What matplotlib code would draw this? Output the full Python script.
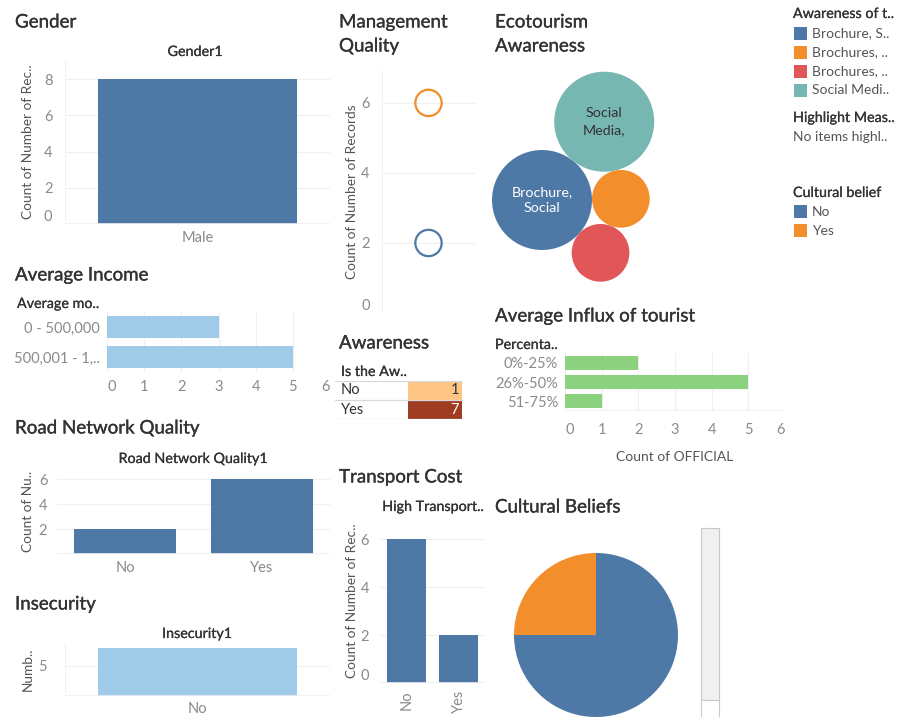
import numpy as np
import matplotlib
matplotlib.use("Agg")
import matplotlib.pyplot as plt
import matplotlib.patheffects as pe
from matplotlib.patches import Circle, Rectangle
from matplotlib.colors import LinearSegmentedColormap, Normalize

# ---------------- data ----------------
gender_cats = ["Male"]
gender_vals = [8]

income_cats = ["0 - 500,000", "500,001 - 1,.."]
income_vals = [3, 5]

road_cats = ["No", "Yes"]
road_vals = [2, 6]

insecurity_cats = ["No"]
insecurity_vals = [8]

mgmt_cats = ["No", "Yes"]
mgmt_vals = [2, 6]

aware_cats = ["No", "Yes"]
aware_vals = [1, 7]

transport_cats = ["No", "Yes"]
transport_vals = [6, 2]

eco_cats = ["Brochure, S..", "Brochures, ..", "Brochures, ..", "Social Medi.."]
eco_vals = [3, 1, 1, 3]
eco_labels = ["Brochure,\nSocial", "", "", "Social\nMedia,"]

influx_cats = ["0%-25%", "26%-50%", "51-75%"]
influx_vals = [2, 5, 1]

culture_cats = ["No", "Yes"]
culture_vals = [6, 2]

# ---------------- style ----------------
BLUE = "#4E79A7"
ORANGE = "#F28E2B"
RED = "#E15759"
TEAL = "#76B7B2"
LBLUE = "#A0CBE8"
GREEN = "#8CD17D"
DARK = "#333333"
GRAY = "#8A8A8A"
AXT = "#555555"
GRID = "#EFEFEF"
TICK_FS = 10.5

plt.rcParams['font.family'] = ['Lato', 'DejaVu Sans']

W, H = 907, 717
fig = plt.figure(figsize=(W / 100, H / 100), dpi=100)
fig.patch.set_facecolor("white")


def add_ax(x0, y0, x1, y1):
    return fig.add_axes([x0 / W, 1 - y1 / H, (x1 - x0) / W, (y1 - y0) / H])


def ftext(x, y, s, **kw):
    kw.setdefault("va", "center")
    kw.setdefault("ha", "left")
    kw.setdefault("color", DARK)
    return fig.text(x / W, 1 - y / H, s, **kw)


def frect(x0, y0, x1, y1, **kw):
    r = Rectangle((x0 / W, 1 - y1 / H), (x1 - x0) / W, (y1 - y0) / H,
                  transform=fig.transFigure, **kw)
    fig.add_artist(r)


def style(ax, grid_axis="y"):
    for s in ax.spines.values():
        s.set_visible(False)
    ax.tick_params(length=0, colors=GRAY, labelsize=TICK_FS)
    ax.grid(axis=grid_axis, color=GRID, lw=0.8)
    ax.set_axisbelow(True)


def title(x, y, s):
    ftext(x, y, s, fontsize=13.5, color=DARK,
          path_effects=[pe.withStroke(linewidth=0.22, foreground=DARK)])


def subtitle(x, y, s, ha="left"):
    ftext(x, y, s, fontsize=10.3, color=DARK, ha=ha,
          path_effects=[pe.withStroke(linewidth=0.15, foreground=DARK)])


def ylab(ax, s, px_x, axx0, axx1):
    ax.set_ylabel(s, fontsize=9.8, color=AXT, va="center")
    ax.yaxis.set_label_coords((px_x - axx0) / (axx1 - axx0), 0.5)


def nudge_zero_y(ax):
    fig.canvas.draw()
    for lab in ax.get_yticklabels():
        if lab.get_text() == "0":
            lab.set_va("bottom")


def nudge_ends_x(ax):
    fig.canvas.draw()
    labs = ax.get_xticklabels()
    labs[0].set_ha("left")
    labs[-1].set_ha("right")


# ---------------- Gender ----------------
title(15, 22, "Gender")
subtitle(195, 52, "Gender1", ha="center")
ax = add_ax(65, 60, 330, 224)
style(ax)
ax.bar(range(len(gender_cats)), gender_vals, width=0.75, color=BLUE)
ax.set_xlim(-0.5, 0.5)
ax.set_ylim(0, 9.05)
ax.set_yticks([0, 2, 4, 6, 8])
ax.set_xticks(range(len(gender_cats)), gender_cats)
ax.tick_params(axis="y", pad=9)
ax.tick_params(axis="x", pad=5)
ax.axvline(-0.5, color=GRID, lw=1.2)
ax.axhline(0, color=GRID, lw=1.2)
ylab(ax, "Count of Number of Rec..", 28, 65, 330)
nudge_zero_y(ax)

# ---------------- Average Income ----------------
title(15, 275, "Average Income")
subtitle(17, 304, "Average mo..")
ax = add_ax(107, 312, 330, 372)
style(ax, "x")
ax.barh(range(len(income_cats)), income_vals, height=0.73, color=LBLUE)
ax.set_ylim(len(income_cats) - 0.5, -0.5)
ax.set_xlim(0, 6.0)
ax.set_xticks(range(0, 7))
ax.set_yticks(range(len(income_cats)), income_cats)
ax.tick_params(axis="x", pad=6)
ax.tick_params(axis="y", pad=5)
nudge_ends_x(ax)

# ---------------- Road Network Quality ----------------
title(15, 428, "Road Network Quality")
subtitle(193, 459, "Road Network Quality1", ha="center")
ax = add_ax(57, 468, 330, 554)
style(ax)
ax.bar(range(len(road_cats)), road_vals, width=0.75, color=BLUE)
ax.set_xlim(-0.5, 1.5)
ax.set_ylim(0, 6.9)
ax.set_yticks([2, 4, 6])
ax.set_xticks(range(len(road_cats)), road_cats)
ax.tick_params(axis="y", pad=7)
ax.tick_params(axis="x", pad=5)
ax.axhline(0, color=GRID, lw=1.2)
ylab(ax, "Count of Nu..", 28, 57, 330)

# ---------------- Insecurity ----------------
title(15, 604, "Insecurity")
subtitle(197, 634, "Insecurity1", ha="center")
ax = add_ax(65, 643, 330, 696)
style(ax)
ax.bar(range(len(insecurity_cats)), insecurity_vals, width=0.75, color=LBLUE)
ax.set_xlim(-0.5, 0.5)
ax.set_ylim(0, 8.8)
ax.set_yticks([5])
ax.set_xticks(range(len(insecurity_cats)), insecurity_cats)
ax.tick_params(axis="y", pad=13)
ax.tick_params(axis="x", pad=4)
ax.axvline(-0.5, color=GRID, lw=1.2)
ax.axhline(0, color=GRID, lw=1.2)
ylab(ax, "Numb..", 28, 65, 330)

# ---------------- Management Quality ----------------
title(339, 22, "Management")
title(339, 46, "Quality")
ax = add_ax(382, 70, 475, 313)
style(ax)
ax.scatter([0] * len(mgmt_vals), mgmt_vals, s=360, facecolors="none",
           edgecolors=[BLUE, ORANGE], linewidths=1.6, zorder=3)
ax.set_xlim(-1, 1)
ax.set_ylim(0, 6.94)
ax.set_yticks([0, 2, 4, 6])
ax.set_xticks([])
ax.tick_params(axis="y", pad=9)
ax.axvline(-1, color=GRID, lw=1.2)
ylab(ax, "Count of Number of Records", 352, 382, 475)
nudge_zero_y(ax)

# ---------------- Awareness table ----------------
title(339, 343, "Awareness")
subtitle(341, 372, "Is the Aw..")
ax = add_ax(335, 381, 463, 419)
ax.set_axis_off()
ax.set_xlim(0, 128)
ax.set_ylim(len(aware_cats), 0)
cmap = LinearSegmentedColormap.from_list("tab_orange", ["#FFC585", "#9E3D22"])
norm = Normalize(min(aware_vals), max(aware_vals))
for i, (c, v) in enumerate(zip(aware_cats, aware_vals)):
    ax.add_patch(Rectangle((73, i), 54, 1, color=cmap(norm(v)), lw=0))
    ax.text(6, i + 0.5, c, va="center", ha="left", fontsize=10.5, color=DARK)
    ax.text(124, i + 0.5, str(v), va="center", ha="right", fontsize=10.5,
            color="white" if norm(v) > 0.5 else DARK)
for yy in range(len(aware_cats) + 1):
    ax.axhline(yy, color="#D8D8D8", lw=0.9)

# ---------------- Transport Cost ----------------
title(339, 477, "Transport Cost")
subtitle(433, 507, "High Transport..", ha="center")
ax = add_ax(380, 518, 485, 683)
style(ax)
ax.bar(range(len(transport_cats)), transport_vals, width=0.74, color=BLUE)
ax.set_xlim(-0.5, 1.5)
ax.set_ylim(0, 6.88)
ax.set_yticks([0, 2, 4, 6])
ax.set_xticks(range(len(transport_cats)), transport_cats, rotation=90)
ax.tick_params(axis="y", pad=8)
ax.tick_params(axis="x", pad=5)
ax.axhline(0, color=GRID, lw=1.2)
ylab(ax, "Count of Number of Rec..", 352, 380, 485)
nudge_zero_y(ax)

# ---------------- Ecotourism Awareness (packed bubbles) ----------------
title(495, 22, "Ecotourism")
title(495, 46, "Awareness")
eco_colors = [BLUE, ORANGE, RED, TEAL]
order = list(np.argsort(-np.array(eco_vals), kind="stable"))
k = 50 / np.sqrt(3)
radii = [k * np.sqrt(eco_vals[i]) for i in order]
theta0 = np.arctan2(78, 62)
centers = [np.array([0.0, 0.0]),
           np.array([np.cos(theta0), np.sin(theta0)]) * (radii[0] + radii[1])]
for i in range(2, len(radii)):
    c0, ca = centers[0], centers[i - 1]
    d0, da = radii[0] + radii[i], radii[i - 1] + radii[i]
    D = np.linalg.norm(ca - c0)
    u = (ca - c0) / D
    a = (d0 ** 2 - da ** 2 + D ** 2) / (2 * D)
    h = np.sqrt(max(d0 ** 2 - a ** 2, 0))
    centers.append(c0 + a * u + h * np.array([u[1], -u[0]]))
ax = add_ax(490, 60, 680, 300)
ax.set_axis_off()
ax.set_xlim(-52, 138)
ax.set_ylim(-100, 140)
ax.set_aspect("equal")
for c, r, idx in zip(centers, radii, order):
    col = eco_colors[idx]
    ax.add_patch(Circle(c, r, color=col, lw=0))
    if eco_labels[idx]:
        ax.text(c[0], c[1], eco_labels[idx], ha="center", va="center",
                fontsize=10.3, color="white" if col == BLUE else DARK,
                linespacing=1.45)

# ---------------- Legends ----------------
subtitle(793, 14, "Awareness of t..")
for j, (c, col) in enumerate(zip(eco_cats, eco_colors)):
    y = 33 + j * 19
    frect(794, y - 6.5, 807, y + 6.5, color=col, lw=0)
    ftext(812, y, c, fontsize=10, color="#555555")
subtitle(793, 118, "Highlight Meas..")
ftext(793, 137, "No items highl..", fontsize=10, color="#555555")
subtitle(793, 193, "Cultural belief")
for j, (c, col) in enumerate(zip(culture_cats, [BLUE, ORANGE])):
    y = 212 + j * 19
    frect(794, y - 6.5, 807, y + 6.5, color=col, lw=0)
    ftext(812, y, c, fontsize=10, color="#555555")

# ---------------- Average Influx of tourist ----------------
title(495, 316, "Average Influx of tourist")
subtitle(495, 345, "Percenta..")
ax = add_ax(565, 353, 785, 411)
style(ax, "x")
ax.barh(range(len(influx_cats)), influx_vals, height=0.72, color=GREEN)
ax.set_ylim(len(influx_cats) - 0.5, -0.5)
ax.set_xlim(0, 6.0)
ax.set_xticks(range(0, 7))
ax.set_yticks(range(len(influx_cats)), influx_cats)
ax.tick_params(axis="x", pad=9)
ax.tick_params(axis="y", pad=5)
ax.axhline(len(influx_cats) - 0.5, color=GRID, lw=1.2)
ax.set_xlabel("Count of OFFICIAL", fontsize=10, color=AXT, labelpad=10)
nudge_ends_x(ax)

# ---------------- Cultural Beliefs ----------------
title(495, 507, "Cultural Beliefs")
ax = add_ax(514, 553, 678, 717)
ax.pie(culture_vals, colors=[BLUE, ORANGE], startangle=90, counterclock=False,
       radius=1.0, wedgeprops=dict(lw=0))
ax.set_xlim(-1, 1)
ax.set_ylim(-1, 1)
ax.set_aspect("equal")

# scrollbar (UI element)
frect(701, 528, 719, 700, facecolor="#F0F0F0", edgecolor="#C8C8C8", lw=0.8)
frect(701, 700, 719, 720, facecolor="white", edgecolor="#C8C8C8", lw=0.8)

fig.savefig("out.png", dpi=100)
